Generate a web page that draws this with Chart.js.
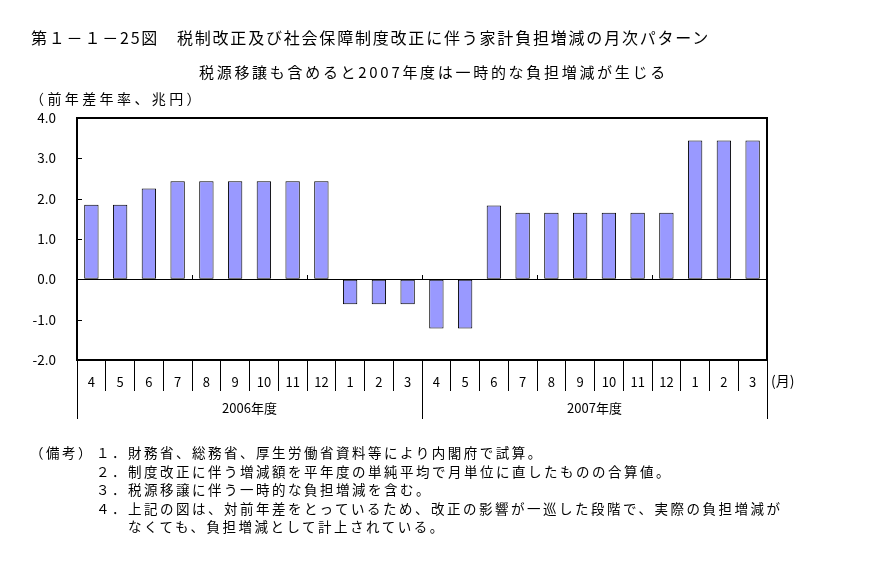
<!DOCTYPE html>
<html>
<head>
<meta charset="utf-8">
<script src="https://cdn.jsdelivr.net/npm/chart.js@4"></script>
<style>
  body { margin: 0; background: #fff; }
  #wrap { position: relative; width: 894px; height: 564px; font-family: "Noto Sans CJK JP", sans-serif; color: #000; }
  #wrap canvas { position: absolute; left: 0; top: 0; }
  .t { position: absolute; white-space: pre; line-height: 1; }
</style>
</head>
<body>
<div id="wrap">
  <canvas id="bar-chartcanvas" width="894" height="564"></canvas>
  <div class="t" style="left:31px;top:29px;font-size:16px;letter-spacing:1.8px;">第１－１－25図　税制改正及び社会保障制度改正に伴う家計負担増減の月次パターン</div>
  <div class="t" style="left:199px;top:64px;font-size:15px;letter-spacing:2.7px;">税源移譲も含めると2007年度は一時的な負担増減が生じる</div>
  <div class="t" style="left:30px;top:91px;font-size:14px;letter-spacing:3.4px;">（前年差年率、兆円）</div>
  <div class="t" style="left:771px;top:373px;font-size:14px;">(月)</div>
  <div class="t" style="left:30px;top:446px;font-size:13.5px;letter-spacing:2.5px;">（備考）</div>
  <div class="t" style="left:96px;top:446px;font-size:13.5px;letter-spacing:2.5px;">１．財務省、総務省、厚生労働省資料等により内閣府で試算。</div>
  <div class="t" style="left:96px;top:464.5px;font-size:13.5px;letter-spacing:2.5px;">２．制度改正に伴う増減額を平年度の単純平均で月単位に直したものの合算値。</div>
  <div class="t" style="left:96px;top:483px;font-size:13.5px;letter-spacing:2.5px;">３．税源移譲に伴う一時的な負担増減を含む。</div>
  <div class="t" style="left:96px;top:501.5px;font-size:13.5px;letter-spacing:2.5px;">４．上記の図は、対前年差をとっているため、改正の影響が一巡した段階で、実際の負担増減が</div>
  <div class="t" style="left:128px;top:520px;font-size:13.5px;letter-spacing:2.5px;">なくても、負担増減として計上されている。</div>
</div>
<script>
var months = ["4","5","6","7","8","9","10","11","12","1","2","3","4","5","6","7","8","9","10","11","12","1","2","3"];
var fiscalYears = ["2006年度", "2007年度"];
var burden = [1.85, 1.85, 2.25, 2.43, 2.43, 2.43, 2.43, 2.43, 2.43, -0.62, -0.62, -0.62,
              -1.22, -1.22, 1.83, 1.65, 1.65, 1.65, 1.65, 1.65, 1.65, 3.44, 3.44, 3.44];
var yTicks = [-2, -1, 0, 1, 2, 3, 4];

var font = '"Noto Sans CJK JP", sans-serif';

// frame round the plot, short inward ticks on the y axis, ticks on the zero line
var framePlugin = {
	id: "frame",
	afterDatasetsDraw: function(chart) {
		var c = chart.ctx, a = chart.chartArea;
		var x = chart.scales.x, y = chart.scales.y;
		c.save();
		c.strokeStyle = "#000";
		c.lineWidth = 1;
		c.beginPath();
		yTicks.forEach(function(v) {
			var py = Math.round(y.getPixelForValue(v)) + 0.5;
			c.moveTo(a.left, py);
			c.lineTo(a.left + 5, py);
		});
		var zy = Math.round(y.getPixelForValue(0));
		var step = (a.right - a.left) / months.length;
		for (var i = 4; i < months.length; i += 4) {
			var px = Math.round(x.getPixelForValue(i) - step / 2) + 0.5;
			c.moveTo(px, zy);
			c.lineTo(px, zy - 4);
		}
		c.stroke();
		c.lineWidth = 2;
		c.strokeRect(a.left, a.top, a.right - a.left, a.bottom - a.top);
		c.restore();
	}
};

var ctx = document.getElementById("bar-chartcanvas");

var data = {
	labels: months,
	datasets: [
		{
			data: burden,
			backgroundColor: "#9999FF",
			borderColor: "#000",
			borderWidth: 1,
			borderSkipped: false,
			barPercentage: 0.5,
			categoryPercentage: 1.0
		}
	]
};

var options = {
	responsive: false,
	animation: false,
	layout: { padding: { left: 0, top: 118, right: 127, bottom: 145 } },
	plugins: {
		legend: { display: false },
		tooltip: { enabled: false }
	},
	scales: {
		x: {
			type: "category",
			position: "bottom",
			weight: 0,
			offset: true,
			border: { display: false },
			grid: { offset: true, drawOnChartArea: false, drawTicks: true, tickLength: 31, color: "#000", lineWidth: 1 },
			ticks: { autoSkip: false, maxRotation: 0, padding: -17, color: "#000", font: { family: font, size: 13 } },
			afterFit: function(s) { s.height = 31; }
		},
		x2: {
			type: "category",
			labels: fiscalYears,
			position: "bottom",
			weight: 1,
			offset: true,
			border: { display: false },
			grid: { offset: true, drawOnChartArea: false, drawTicks: true, tickLength: 28, color: "#000", lineWidth: 1 },
			ticks: { autoSkip: false, maxRotation: 0, padding: -19, color: "#000", font: { family: font, size: 13 } },
			afterFit: function(s) { s.height = 28; }
		},
		y: {
			min: -2,
			max: 4,
			border: { display: false },
			grid: {
				drawTicks: false,
				color: function(c) { return c.tick && c.tick.value === 0 ? "#000" : "rgba(0,0,0,0)"; },
				lineWidth: 1
			},
			ticks: {
				stepSize: 1,
				padding: 21,
				color: "#000",
				font: { family: font, size: 13.5 },
				callback: function(v) { return v.toFixed(1); }
			},
			afterFit: function(s) { s.width = 77; }
		}
	}
};

var chart = new Chart(ctx, {
	type: "bar",
	data: data,
	options: options,
	plugins: [framePlugin]
});
</script>
</body>
</html>
